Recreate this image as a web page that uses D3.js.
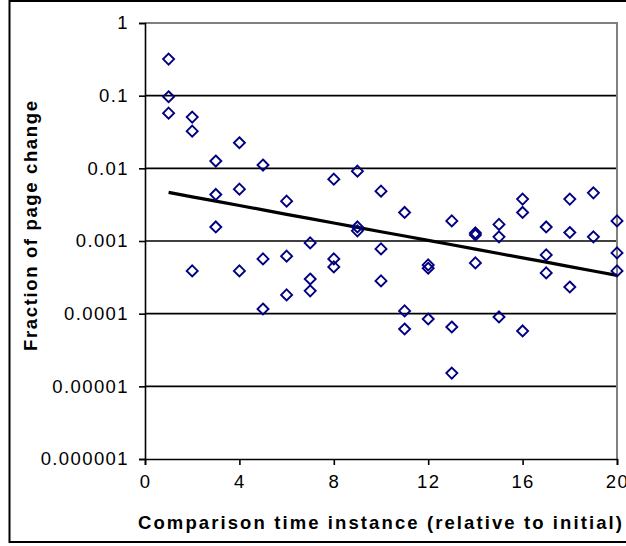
<!DOCTYPE html>
<html><head><meta charset="utf-8">
<script src="https://cdn.jsdelivr.net/npm/d3@7"></script>
<style>html,body{margin:0;padding:0;background:#fff;} svg{display:block;font-family:"Liberation Sans",Arial,sans-serif;}</style>
</head><body>
<script>
// Observed points (x = comparison instance, y = fraction of page change)
const pointX = [1,1,1, 2,2,2, 3,3,3, 4,4,4, 5,5,5, 6,6,6, 7,7,7, 8,8,8, 9,9,9, 10,10,10,
  11,11,11, 12,12,12, 13,13,13, 14,14,14, 15,15,15, 16,16,16, 17,17,17, 18,18,18, 19,19, 20,20,20];
const pointY = [0.319,0.0966,0.0575, 0.0507,0.0325,0.000388, 0.0126,0.00437,0.00156,
  0.0225,0.00517,0.000388, 0.0111,0.000567,0.000116, 0.00353,0.000618,0.000181,
  0.00094,0.0003,0.000206, 0.0071,0.000567,0.00044, 0.00915,0.00156,0.00138,
  0.00485,0.000778,0.000282, 0.00247,0.000109,0.0000615, 0.000469,0.000422,0.0000845,
  0.00189,0.0000656,0.0000152, 0.00129,0.00121,0.000499, 0.00169,0.00114,0.0000901,
  0.00377,0.00247,0.0000578, 0.00156,0.000644,0.000364, 0.00377,0.00131,0.000233,
  0.0046,0.00114, 0.00189,0.000686,0.000388];
// Trend line
const trendX = [1,2,3,4,5,6,7,8,9,10,11,12,13,14,15,16,17,18,19,20];
const trendY = [0.00466,0.00405,0.00353,0.00308,0.00268,0.00233,0.00203,0.00177,0.00154,0.00134,
  0.00117,0.00102,0.000887,0.000773,0.000673,0.000586,0.000511,0.000445,0.000387,0.000337];
const yTicks = [1,0.1,0.01,0.001,0.0001,0.00001,0.000001];
const yTickLabels = ["1","0.1","0.01","0.001","0.0001","0.00001","0.000001"];
const xTicks = [0,4,8,12,16,20];
const xTitle = "Comparison time instance (relative to initial)";
const yTitle = "Fraction of page change";

const W = 626, H = 546;
const L = 145, R = 617, T = 23, B = 459;
const svg = d3.select("body").append("svg").attr("width", W).attr("height", H);

// outer frame
svg.append("rect").attr("x", 9.5).attr("y", 1).attr("width", 640).attr("height", 541)
  .attr("fill", "none").attr("stroke", "#000").attr("stroke-width", 2);

const x = d3.scaleLinear().domain([0, 20]).range([L, R]);
const y = d3.scaleLog().domain([0.000001, 1]).range([B, T]);

// gridlines
svg.append("g").selectAll("line").data(yTicks.filter(v => v < 1 && v > 0.000001)).join("line")
  .attr("x1", L).attr("x2", R).attr("y1", d => y(d)).attr("y2", d => y(d))
  .attr("stroke", "#000").attr("stroke-width", 1.6);

// plot border top/right gray
svg.append("path").attr("d", `M${L},${T}H${R}V${B}`).attr("fill", "none")
  .attr("stroke", "#808080").attr("stroke-width", 2);

// y axis
const yAxis = d3.axisLeft(y).tickValues(yTicks).tickFormat((d, i) => yTickLabels[i]).tickSize(6).tickPadding(10);
const gy = svg.append("g").attr("transform", `translate(${L},0)`).call(yAxis);
gy.select(".domain").attr("stroke", "#000").attr("stroke-width", 1.6);
gy.selectAll(".tick line").attr("stroke", "#000").attr("stroke-width", 1.6);
gy.selectAll(".tick text").attr("font-size", 18.5).attr("fill", "#000")
  .attr("letter-spacing", "1.4px")
  .attr("font-family", "Liberation Sans, Arial, sans-serif");

// x axis
const xAxis = d3.axisBottom(x).tickValues(xTicks).tickFormat(d3.format("d")).tickSize(6).tickPadding(10);
const gx = svg.append("g").attr("transform", `translate(0,${B})`).call(xAxis);
gx.select(".domain").attr("stroke", "#000").attr("stroke-width", 1.6);
gx.selectAll(".tick line").attr("stroke", "#000").attr("stroke-width", 1.6);
gx.selectAll(".tick text").attr("font-size", 18.5).attr("fill", "#000")
  .attr("letter-spacing", "1.4px")
  .attr("font-family", "Liberation Sans, Arial, sans-serif");

// trend line
const pts = trendX.map((v, i) => [v, trendY[i]]);
svg.append("path").attr("d", d3.line().x(d => x(d[0])).y(d => y(d[1]))(pts))
  .attr("fill", "none").attr("stroke", "#000").attr("stroke-width", 3.2);

// diamond markers
const data = pointX.map((v, i) => [v, pointY[i]]);
const r = 5.5;
svg.append("g").selectAll("path").data(data).join("path")
  .attr("transform", d => `translate(${x(d[0])},${y(d[1])})`)
  .attr("d", `M0,${-r}L${r},0L0,${r}L${-r},0Z`)
  .attr("fill", "none").attr("stroke", "#000080").attr("stroke-width", 1.9);

// titles
svg.append("text").attr("x", 380).attr("y", 529).attr("text-anchor", "middle")
  .attr("font-size", 18.5).attr("font-weight", "bold").attr("fill", "#000")
  .attr("textLength", 484).attr("lengthAdjust", "spacing").text(xTitle);
svg.append("text").attr("transform", "translate(37,226) rotate(-90)").attr("text-anchor", "middle")
  .attr("font-size", 18.5).attr("font-weight", "bold").attr("fill", "#000")
  .attr("textLength", 250).attr("lengthAdjust", "spacing").text(yTitle);
</script>
</body></html>
